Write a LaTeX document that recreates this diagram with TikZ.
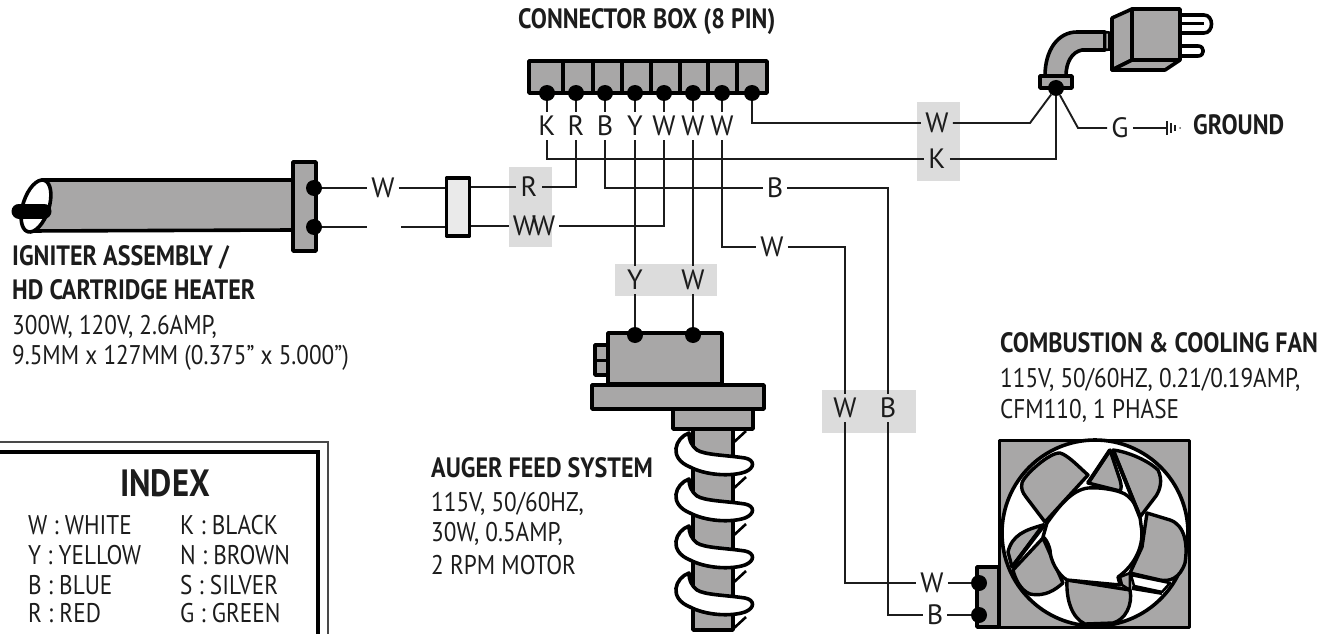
\documentclass[tikz,border=0pt]{standalone}
\usepackage{fontspec}
\setmainfont{PT Sans}
\newfontfamily\condfont[FakeStretch=0.86]{PT Sans}
\usepackage{tikz}
\definecolor{partgrey}{HTML}{A8A7A7}
\definecolor{patchgrey}{HTML}{DCDCDC}
\definecolor{inkblack}{HTML}{1C1C1C}
\tikzset{
  wirelab/.style={inner sep=4pt,text=inkblack,font=\fontsize{28}{28}\selectfont},
  wire/.style={draw=inkblack,line width=1.9pt},
  pinnode/.style={circle,fill=black,inner sep=0pt,minimum size=16pt},
  patch/.style={fill=patchgrey,draw=none},
  part/.style={fill=partgrey,draw=black,line width=3.6pt,line join=round},
  blade/.style={fill=partgrey,draw=black,line width=3.4pt,line join=round},
  headtxt/.style={anchor=west,inner sep=0pt,text=inkblack,font=\condfont\bfseries\fontsize{28}{28}\selectfont},
  bodytxt/.style={anchor=west,inner sep=0pt,text=inkblack,font=\condfont\fontsize{27}{27}\selectfont}
}
\begin{document}
\begin{tikzpicture}[x=1pt,y=-1pt]
\useasboundingbox (0,0) rectangle (1323,634);
% grey patches behind labels
\fill[patch] (509,167) rectangle (552,247);
\fill[patch] (917,102) rectangle (960,181);
\fill[patch] (615,264) rectangle (717,296);
\fill[patch] (822,390) rectangle (916,433);
% connector box
\draw[part] (529,61) rectangle (767,93);
\foreach \dx in {563,593,622,651,680,708,737}
  \draw[black,line width=3.6pt] (\dx,61) -- (\dx,93);
\node[pinnode] (pinK) at (547,93) {};
\node[pinnode] (pinR) at (576,93) {};
\node[pinnode] (pinB) at (605,93) {};
\node[pinnode] (pinY) at (635,93) {};
\node[pinnode] (pinWa) at (664,93) {};
\node[pinnode] (pinWb) at (693,93) {};
\node[pinnode] (pinWc) at (722,93) {};
\node[pinnode] (pinWd) at (752,93) {};
% plug
\draw[part] (1045,76) .. controls (1045,50) and (1058,32) .. (1077,32) -- (1105,32) -- (1105,50)
  -- (1082,50) .. controls (1072,52) and (1066,62) .. (1066,76) -- cycle;
\draw[part,line width=2.6pt] (1105,32) -- (1120,34) -- (1122,48) -- (1105,50) -- cycle;
\foreach \dx in {1109,1113,1117}
  \draw[black,line width=1.6pt] (\dx,33) -- (\dx,49);
\draw[part,fill=white] (1180,15) -- (1204,15) .. controls (1214,15) and (1214,33) .. (1204,33) -- (1180,33);
\draw[part,fill=white,line width=3pt] (1180,24) -- (1204,24);
\draw[part,fill=white] (1180,46) -- (1198,46) .. controls (1205,46) and (1205,56) .. (1198,56) -- (1180,56);
\draw[part] (1132,9) -- (1180,9) -- (1180,60) -- (1132,60) -- cycle;
\draw[part] (1112,18) -- (1132,9) -- (1132,60) -- (1112,70) -- cycle;
\draw[part] (1112,70) -- (1132,60) -- (1180,60) -- (1165,70) -- cycle;
\draw[part] (1040,76) rectangle (1072,88);
\node[pinnode] (pinPlug) at (1056,88) {};
% igniter
\draw[part] (293,180) -- (42,180) -- (28,231) -- (293,230) -- cycle;
\draw[black,fill=white,line width=3.6pt] (36,206) ellipse [x radius=13pt,y radius=27pt,rotate=-18];
\draw[black,line width=15pt,line cap=round] (19,211) -- (44,211);
\draw[part] (293,162) rectangle (316,251);
\node[pinnode] (pinIgA) at (314,188) {};
\node[pinnode] (pinIgB) at (314,227) {};
\node[part,fill=patchgrey!60!white,minimum width=23pt,minimum height=58pt,inner sep=0pt] (res) at (458,207) {};
% auger
\draw[part] (595,345) rectangle (608,375);
\draw[black,line width=3pt] (595,360) -- (608,360);
\draw[part] (608,333) rectangle (722,384);
\draw[part] (592,385) rectangle (764,409);
\draw[part] (673,409) rectangle (753,429);
\draw[part] (693,429) rectangle (733,630);
\foreach \dy in {0,46,93,140,186}
  \draw[black,line width=2.6pt,shift={(0,\dy)}] (733,443) -- (746,431);
\foreach \dy in {0,46,93,140}{
  \draw[fill=white,draw=black,line width=3.6pt,line join=round,shift={(0,\dy)}] (689,433) .. controls (675,438) and (668,458) .. (690,467)
    .. controls (705,475) and (730,477) .. (745,472) .. controls (755,468) and (755,460) .. (745,458)
    .. controls (725,455) and (705,455) .. (697,450) .. controls (691,445) and (689,440) .. (689,433) -- cycle;
}
\node[pinnode] (pinAugY) at (635,335) {};
\node[pinnode] (pinAugW) at (693,335) {};
% fan
\draw[part] (977,567) rectangle (999,627);
\draw[part,line width=3pt] (999,440) rectangle (1189,627);
\draw[black,fill=white,line width=3.6pt] (1095,533) circle [radius=93pt];
\draw[blade] (1022,483) .. controls (1024,475) and (1050,452) .. (1060,453) .. controls (1068,455) and (1080,468) .. (1088,475)
  -- (1045,522) -- (1026,497) .. controls (1022,492) and (1021,488) .. (1022,483) -- cycle;
\draw[blade] (1110,450) -- (1088,483) -- (1120,491) .. controls (1122,488) and (1121,484) .. (1120,480) -- cycle;
\draw[blade] (1113,450) .. controls (1130,452) and (1150,462) .. (1158,470) .. controls (1163,480) and (1160,490) .. (1156,496) -- (1140,517) -- cycle;
\draw[blade] (1147,513) -- (1170,520) .. controls (1185,525) and (1188,545) .. (1185,563) .. controls (1180,578) and (1170,582) .. (1160,580) -- (1130,573) -- (1142,547) -- cycle;
\draw[blade] (1067,580) -- (1130,590) .. controls (1133,605) and (1125,620) .. (1113,623) -- (1085,624) .. controls (1072,618) and (1066,600) .. (1067,580) -- cycle;
\draw[blade] (1043,538) -- (1063,583) .. controls (1055,590) and (1045,597) .. (1030,594) .. controls (1020,590) and (1015,578) .. (1013,570) -- cycle;
\draw[blade] (1043,525) .. controls (1025,530) and (1012,535) .. (1008,552) -- (1012,567) -- cycle;
\draw[blade,fill=white,line width=2.6pt] (1131,575) -- (1170,583) -- (1162,592) -- (1134,586) -- cycle;
\draw[blade,line width=2.6pt] (1120,577) -- (1130,573) -- (1130,590) -- (1122,585) -- cycle;
\draw[fill=white,draw=black,line width=3.4pt,line join=round] (1047,523) .. controls (1060,505) and (1072,490) .. (1088,488)
  .. controls (1100,487) and (1115,490) .. (1120,492) .. controls (1132,495) and (1140,510) .. (1141,525)
  .. controls (1145,545) and (1135,565) .. (1118,577) -- (1120,585) -- (1067,580)
  .. controls (1058,575) and (1050,560) .. (1050,550) .. controls (1048,542) and (1045,538) .. (1043,537) -- cycle;
\draw[black,line width=4pt] (1012,567) -- (1045,524);
\draw[black,line width=4pt] (1110,450) -- (1088,483);
\draw[black,line width=4pt] (1113,450) -- (1140,517);
\draw[black,line width=4pt] (1132,588) -- (1162,593);
\node[pinnode] (pinFanW) at (979,583) {};
\node[pinnode] (pinFanB) at (979,615) {};
% wire labels
\node[wirelab] (labK) at (547,126) {K};
\node[wirelab] (labR) at (576,126) {R};
\node[wirelab] (labB) at (605,126) {B};
\node[wirelab] (labY) at (635,126) {Y};
\node[wirelab] (labWa) at (664,126) {W};
\node[wirelab] (labWb) at (693,126) {W};
\node[wirelab] (labWc) at (722,126) {W};
\node[wirelab] (labPw) at (937,123) {W};
\node[wirelab] (labPk) at (937,159) {K};
\node[wirelab] (labG) at (1120,128) {G};
\node[wirelab] (labIw) at (383,188) {W};
\node[wirelab] (labIr) at (529,187) {R};
\node[wirelab] (labIww) at (534,226) {W\kern-4pt W};
\node[wirelab] (labBb) at (775,188) {B};
\node[wirelab] (labWw) at (772,247) {W};
\node[wirelab] (labAy) at (635,280) {Y};
\node[wirelab] (labAw) at (693,280) {W};
\node[wirelab] (labFw) at (845,408) {W};
\node[wirelab] (labFb) at (888,408) {B};
\node[wirelab] (labFww) at (932,583) {W};
\node[wirelab] (labFbb) at (935,615) {B};
\coordinate (gapL) at (367,227);
\coordinate (gapR) at (401,227);
\coordinate (bendW) at (1030,123);
\coordinate (bendG) at (1078,128);
\coordinate (gndTip) at (1167,128);
% wires
\draw[wire] (pinK) -- (labK);
\draw[wire] (pinR) -- (labR);
\draw[wire] (pinB) -- (labB);
\draw[wire] (pinY) -- (labY);
\draw[wire] (pinWa) -- (labWa);
\draw[wire] (pinWb) -- (labWb);
\draw[wire] (pinWc) -- (labWc);
\draw[wire] (pinWd) |- (labPw);
\draw[wire] (labPw) -- (bendW) -- (pinPlug);
\draw[wire] (labK) |- (labPk);
\draw[wire] (labPk) -| (pinPlug);
\draw[wire] (pinPlug) -- (bendG) -- (labG);
\draw[wire] (labG) -- (gndTip);
\draw[wire] (labR) |- (labIr);
\draw[wire] (labIr) -- (labIr -| res.east);
\draw[wire] (labWa) |- (labIww);
\draw[wire] (labIww) -- (labIww -| res.east);
\draw[wire] (pinIgA) -- (labIw);
\draw[wire] (labIw) -- (labIw -| res.west);
\draw[wire] (pinIgB) -- (gapL);
\draw[wire] (gapR) -- (gapR -| res.west);
\draw[wire] (labB) |- (labBb);
\draw[wire] (labBb) -| (labFb);
\draw[wire] (labFb) |- (labFbb);
\draw[wire] (labFbb) -- (pinFanB);
\draw[wire] (labWc) |- (labWw);
\draw[wire] (labWw) -| (labFw);
\draw[wire] (labFw) |- (labFww);
\draw[wire] (labFww) -- (pinFanW);
\draw[wire,line width=1.4pt] (labY) -- (labAy);
\draw[wire,line width=1.4pt] (labAy) -- (pinAugY);
\draw[wire,line width=1.4pt] (labWb) -- (labAw);
\draw[wire,line width=1.4pt] (labAw) -- (pinAugW);
% ground bars
\draw[inkblack,line width=2pt] (1167,121) -- (1167,135);
\draw[inkblack,line width=1.6pt] (1171,123) -- (1171,133);
\draw[inkblack,line width=1.2pt] (1175,125) -- (1175,131);
\fill[inkblack!70] (1180,128) circle [radius=1pt];
% texts
\node[headtxt] (txtBox) at (518,22) {CONNECTOR BOX (8 PIN)};
\node[headtxt] (txtGnd) at (1193,125) {GROUND};
\node[headtxt] (txtIga) at (12,257) {IGNITER ASSEMBLY /};
\node[headtxt] (txtIgb) at (12,290) {HD CARTRIDGE HEATER};
\node[bodytxt] (txtIgc) at (12,327) {300W, 120V, 2.6AMP,};
\node[bodytxt] (txtIgd) at (12,358) {9.5MM x 127MM (0.375” x 5.000”)};
\node[headtxt] (txtFana) at (1000,343) {COMBUSTION \& COOLING FAN};
\node[bodytxt] (txtFanb) at (1000,380) {115V, 50/60HZ, 0.21/0.19AMP,};
\node[bodytxt] (txtFanc) at (1000,411) {CFM110, 1 PHASE};
\node[headtxt] (txtAga) at (431,468) {AUGER FEED SYSTEM};
\node[bodytxt] (txtAgb) at (431,504) {115V, 50/60HZ,};
\node[bodytxt] (txtAgc) at (431,534) {30W, 0.5AMP,};
\node[bodytxt] (txtAgd) at (431,565) {2 RPM MOTOR};
% index
\draw[inkblack!80,line width=2pt] (0,442) -- (328,442) -- (328,634);
\draw[black,line width=3.6pt] (0,452) -- (318,452) -- (318,634);
\node[headtxt,anchor=center,font=\condfont\bfseries\fontsize{38}{38}\selectfont] (txtIdx) at (165,483) {INDEX};
\node[bodytxt] (idxW) at (28,525) {W : WHITE};
\node[bodytxt] (idxY) at (28,555) {Y : YELLOW};
\node[bodytxt] (idxB) at (28,585) {B : BLUE};
\node[bodytxt] (idxR) at (28,613) {R : RED};
\node[bodytxt] (idxK) at (180,525) {K : BLACK};
\node[bodytxt] (idxN) at (180,555) {N : BROWN};
\node[bodytxt] (idxS) at (180,585) {S : SILVER};
\node[bodytxt] (idxG) at (180,613) {G : GREEN};
\end{tikzpicture}
\end{document}
